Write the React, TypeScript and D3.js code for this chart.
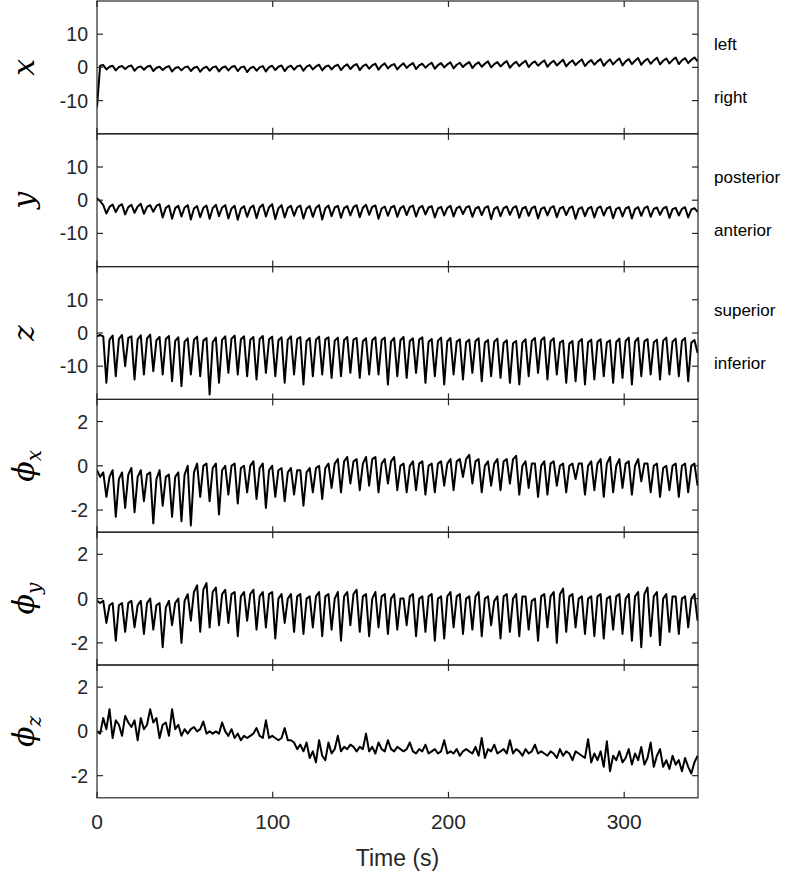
import React from 'react';
import * as d3 from 'd3';

// samples are evenly spaced in time
const SAMPLE_STEP = 1.78;
const TIME_MAX = 342;
const TIME_TICKS = [0, 100, 200, 300];
const POS_TICKS = [-10, 0, 10];
const ROT_TICKS = [-2, 0, 2];

// translation (mm)
const posX = [
  -12, 0.5, 0.7, -0.6, 0.2, 0.5, -0.9, 0.1, 0.4, -0.5, 0.3, 0.6, -1.0, 0.0, 0.3, -0.7, 0.2, 0.5,
  -1.1, -0.1, 0.2, -0.8, 0.0, 0.4, -1.2, -0.2, 0.1, -0.9, 0.0, 0.3, -1.1, -0.1, 0.2, -1.3, -0.2, 0.2,
  -1.0, 0.0, 0.3, -1.2, -0.1, 0.3, -0.9, 0.1, 0.4, -1.1, 0.0, 0.3, -1.4, -0.2, 0.2, -1.0, 0.0, 0.4,
  -1.2, 0.1, 0.5, -0.8, 0.2, 0.6, -1.1, 0.1, 0.5, -0.7, 0.3, 0.6, -1.0, 0.2, 0.7, -0.6, 0.3, 0.8,
  -0.9, 0.2, 0.6, -0.6, 0.4, 0.8, -0.8, 0.3, 0.9, -0.5, 0.5, 1.0, -0.8, 0.4, 0.9, -0.4, 0.6, 1.1,
  -0.7, 0.5, 1.2, -0.3, 0.6, 1.0, -0.6, 0.5, 1.2, -0.2, 0.7, 1.3, -0.5, 0.6, 1.1, -0.1, 0.8, 1.4,
  -0.4, 0.7, 1.3, 0.0, 0.9, 1.5, -0.3, 0.8, 1.4, 0.1, 1.0, 1.6, -0.2, 0.9, 1.5, 0.2, 1.1, 1.8,
  0.0, 1.0, 1.6, 0.3, 1.2, 1.9, -0.1, 1.0, 1.7, 0.4, 1.3, 2.0, 0.1, 1.2, 1.8, 0.5, 1.4, 2.1,
  0.2, 1.3, 2.0, 0.6, 1.5, 2.3, 0.3, 1.4, 2.1, 0.7, 1.6, 2.4, 0.4, 1.5, 2.2, 0.8, 1.8, 2.5,
  0.5, 1.6, 2.4, 0.9, 1.9, 2.7, 0.6, 1.8, 2.5, 1.0, 2.0, 2.8, 0.8, 1.9, 2.6, 1.1, 2.1, 2.9,
  0.9, 2.0, 2.7, 1.2, 2.2, 3.0, 1.0, 2.1, 2.8, 1.3, 2.3, 3.0, 1.8,
];

const posY = [
  0.6, -0.3, -1.5, -4.0, -2.0, -1.3, -3.6, -1.8, -1.2, -4.3, -2.1, -1.4, -3.8, -1.9, -1.1, -4.1, -2.0, -1.5,
  -3.5, -1.7, -1.2, -5.2, -2.3, -1.6, -5.6, -2.4, -1.7, -4.9, -2.2, -1.5, -5.8, -2.5, -1.8, -5.1, -2.3, -1.6,
  -5.6, -2.4, -1.4, -4.8, -2.2, -1.5, -5.5, -2.5, -1.7, -5.9, -2.6, -1.8, -5.0, -2.3, -1.6, -5.4, -2.2, -1.3,
  -4.9, -2.1, -1.2, -5.7, -2.4, -1.5, -5.2, -2.3, -1.7, -4.7, -2.2, -1.6, -5.5, -2.5, -1.8, -5.0, -2.3, -1.5,
  -5.8, -2.4, -1.6, -4.8, -2.2, -1.7, -5.3, -2.4, -1.8, -4.6, -2.1, -1.5, -5.1, -2.3, -1.4, -4.4, -2.0, -1.6,
  -5.6, -2.5, -1.9, -4.7, -2.2, -1.7, -5.0, -2.4, -1.8, -4.5, -2.1, -1.6, -4.9, -2.3, -1.7, -4.3, -2.2, -1.8,
  -5.2, -2.5, -2.0, -4.6, -2.3, -1.7, -4.9, -2.4, -1.9, -4.2, -2.2, -1.8, -5.0, -2.5, -2.0, -4.5, -2.3, -1.8,
  -5.7, -2.6, -2.0, -4.8, -2.4, -1.9, -4.4, -2.3, -1.8, -5.3, -2.5, -2.0, -4.7, -2.4, -1.9, -5.5, -2.6, -2.1,
  -4.6, -2.3, -1.8, -5.1, -2.5, -2.0, -4.5, -2.4, -1.9, -5.6, -2.6, -2.1, -4.8, -2.5, -2.0, -5.2, -2.4, -1.9,
  -4.6, -2.5, -2.0, -5.4, -2.6, -2.2, -4.9, -2.5, -2.0, -5.5, -2.7, -2.1, -4.7, -2.4, -1.9, -5.0, -2.6, -2.2,
  -4.4, -2.5, -2.0, -5.3, -2.7, -2.3, -4.6, -2.6, -2.1, -5.2, -2.8, -2.4, -3.5,
];

const posZ = [
  -1, -0.6, -1.0, -15, -2.0, -0.8, -13, -1.8, -0.6, -10, -1.5, -1.0, -14, -1.9, -0.7, -12.5, -1.6, -0.5,
  -11.5, -2.2, -1.2, -12.5, -1.8, -0.9, -14.5, -2.4, -1.3, -16, -2.6, -1.6, -12.5, -2.0, -1.1, -13, -2.3, -1.5,
  -18.5, -2.8, -1.4, -15, -2.1, -1.0, -12, -1.7, -0.8, -12.5, -1.9, -1.0, -13, -2.0, -1.2, -14, -1.8, -0.9,
  -12, -1.9, -1.1, -13, -2.2, -1.3, -15, -2.0, -1.0, -12.5, -1.8, -1.2, -15.5, -2.4, -1.5, -13, -2.0, -1.1,
  -12.5, -1.9, -1.3, -13.5, -2.3, -1.4, -13, -2.1, -1.2, -12, -2.0, -1.5, -13.5, -2.5, -1.6, -12.5, -2.2, -1.3,
  -12.5, -2.1, -1.4, -15.5, -2.6, -1.5, -13, -2.2, -1.2, -13.5, -2.4, -1.6, -12, -2.0, -1.3, -15, -2.7, -1.8,
  -13, -2.3, -1.4, -15.5, -2.5, -1.5, -12.5, -2.6, -1.9, -14, -2.8, -2.0, -12, -2.4, -1.6, -14.5, -2.9, -2.1,
  -13, -2.6, -1.7, -13.5, -3.0, -2.2, -15, -3.1, -2.4, -15.5, -2.9, -1.9, -13, -2.4, -1.5, -12, -2.2, -1.3,
  -14, -2.5, -1.6, -12.5, -2.9, -2.3, -15, -3.2, -2.4, -14.5, -2.7, -1.8, -15.5, -2.8, -2.0, -14, -2.6, -1.9,
  -13, -2.9, -2.2, -15, -2.7, -1.7, -13.5, -2.4, -1.4, -15.5, -2.6, -1.5, -13, -2.5, -1.8, -12.5, -2.8, -2.0,
  -14, -2.3, -1.4, -12.5, -2.6, -1.7, -13, -2.4, -1.5, -14.5, -2.9, -2.1, -6,
];

// rotation (deg)
const rotX = [
  -0.2, -0.5, -0.3, -1.4, -0.5, -0.2, -2.3, -0.6, -0.3, -1.9, -0.4, -0.1, -2.1, -0.5, -0.2, -1.6, -0.4, -0.3,
  -2.6, -0.6, -0.2, -1.8, -0.5, -0.4, -2.3, -0.5, -0.3, -2.5, -0.4, 0.0, -2.7, -0.3, 0.1, -1.4, 0.0, 0.1,
  -1.6, -0.1, 0.1, -2.2, -0.2, 0.0, -1.3, 0.0, 0.1, -1.7, -0.1, 0.0, -1.2, 0.0, 0.2, -1.5, -0.1, 0.1,
  -1.9, -0.2, 0.0, -1.4, -0.2, -0.1, -1.6, -0.3, -0.1, -1.3, -0.2, -0.2, -1.8, -0.3, -0.1, -1.2, -0.1, 0.0,
  -1.5, -0.1, 0.1, -1.0, 0.1, 0.3, -1.2, 0.2, 0.4, -0.8, 0.2, 0.3, -1.1, 0.1, 0.4, -0.9, 0.3, 0.4,
  -1.2, 0.1, 0.3, -0.8, 0.2, 0.4, -1.1, 0.0, 0.1, -1.2, 0.0, 0.2, -1.1, 0.1, 0.2, -1.3, 0.0, 0.1,
  -1.2, 0.1, 0.2, -0.9, 0.1, 0.3, -1.1, 0.2, 0.3, -0.5, 0.3, 0.5, -0.8, 0.2, 0.3, -1.2, 0.0, 0.2,
  -0.9, 0.1, 0.3, -1.1, 0.2, 0.3, -0.8, 0.3, 0.45, -1.3, 0.0, 0.2, -1.0, 0.1, 0.1, -1.4, 0.0, 0.2,
  -1.3, 0.1, 0.2, -0.9, 0.0, 0.1, -1.2, 0.0, 0.1, -0.6, 0.1, 0.1, -1.3, 0.0, 0.2, -1.1, 0.1, 0.3,
  -1.4, 0.1, 0.4, -1.2, 0.0, 0.3, -1.0, 0.1, 0.2, -1.3, 0.0, 0.3, -0.7, 0.1, 0.1, -1.2, 0.0, 0.1,
  -1.4, -0.1, 0.0, -1.1, 0.0, 0.1, -1.4, 0.0, 0.1, -1.2, 0.0, 0.1, -0.9,
];

const rotY = [
  -0.1, -0.2, -0.1, -1.1, -0.3, -0.2, -1.9, -0.3, -0.2, -1.5, -0.2, -0.1, -1.3, -0.3, -0.1, -1.6, -0.2, 0.0,
  -1.4, -0.3, -0.2, -2.2, -0.4, -0.1, -1.2, -0.2, 0.0, -2.0, -0.1, 0.2, -1.0, 0.3, 0.6, -1.5, 0.4, 0.7,
  -1.3, 0.3, 0.5, -1.2, 0.2, 0.4, -1.1, 0.2, 0.3, -1.7, 0.1, 0.3, -1.0, 0.2, 0.4, -1.4, 0.1, 0.3,
  -1.3, 0.2, 0.3, -1.8, 0.0, 0.2, -1.1, 0.0, 0.2, -1.5, 0.1, 0.2, -1.6, 0.0, 0.1, -1.3, 0.1, 0.3,
  -1.7, 0.1, 0.2, -1.4, 0.0, 0.3, -1.9, 0.1, 0.3, -1.2, 0.2, 0.4, -1.5, 0.1, 0.2, -1.7, 0.0, 0.3,
  -1.3, 0.1, 0.2, -1.6, 0.0, 0.2, -1.4, 0.0, 0.0, -1.2, 0.1, 0.2, -1.7, 0.0, 0.1, -1.5, 0.1, 0.2,
  -1.9, 0.0, 0.1, -1.8, 0.1, 0.3, -1.3, 0.1, 0.2, -1.6, 0.0, 0.1, -1.4, 0.1, 0.3, -1.7, 0.0, 0.1,
  -1.2, -0.1, 0.1, -1.8, 0.1, 0.2, -1.5, 0.0, 0.2, -1.7, 0.1, 0.1, -1.4, -0.1, 0.0, -1.9, 0.1, 0.2,
  -1.3, 0.1, 0.3, -2.0, 0.2, 0.45, -1.5, 0.1, 0.2, -1.3, 0.0, 0.1, -1.6, 0.0, 0.1, -1.7, 0.1, 0.2,
  -1.8, 0.0, 0.1, -1.4, 0.1, 0.2, -1.6, 0.0, 0.2, -1.9, 0.1, 0.3, -2.2, 0.2, 0.5, -1.7, 0.1, 0.3,
  -2.1, 0.0, 0.2, -1.5, 0.1, 0.1, -1.6, 0.0, 0.1, -1.3, 0.0, 0.2, -1.0,
];

const rotZ = [
  0.0, -0.1, 0.6, 0.1, 1.0, -0.3, 0.5, 0.3, -0.2, 0.7, 0.4, 0.2, 0.5, -0.4, 0.6, 0.1, 0.3, 1.0,
  0.4, 0.6, -0.3, 0.3, 0.4, -0.2, 1.0, 0.1, 0.3, -0.2, 0.1, -0.1, 0.1, 0.2, 0.0, 0.1, 0.45, -0.1,
  0.0, -0.1, 0.0, -0.1, 0.4, 0.0, -0.2, 0.1, -0.3, -0.1, -0.4, -0.2, -0.3, -0.2, -0.1, 0.15, -0.2, -0.3,
  0.5, -0.3, -0.2, -0.3, -0.4, -0.3, 0.15, -0.4, -0.4, -0.5, -0.8, -0.6, -0.9, -0.5, -1.2, -0.9, -1.4, -0.4,
  -1.1, -1.3, -0.5, -1.0, -0.8, -0.2, -0.9, -0.7, -0.8, -0.6, -0.7, -0.9, -0.7, -0.8, -0.1, -0.9, -0.7, -1.0,
  -0.5, -0.8, -0.9, -0.4, -0.8, -0.9, -0.7, -0.8, -0.9, -0.8, -0.5, -0.9, -1.0, -0.8, -0.9, -0.6, -1.0, -0.9,
  -0.8, -1.0, -0.9, -0.4, -1.0, -0.9, -1.0, -0.8, -1.1, -0.9, -0.8, -0.9, -1.0, -0.7, -1.1, -0.3, -1.2, -0.8,
  -0.9, -0.6, -1.0, -0.9, -0.8, -1.0, -0.4, -1.0, -0.8, -0.9, -1.1, -0.8, -1.0, -0.9, -0.6, -1.0, -0.9, -1.0,
  -1.1, -0.9, -1.0, -1.2, -0.8, -1.1, -0.9, -1.0, -1.3, -0.9, -1.0, -1.1, -1.2, -0.35, -1.4, -1.0, -1.3, -0.9,
  -1.6, -0.45, -1.8, -1.1, -1.3, -0.9, -1.4, -1.2, -0.8, -1.5, -1.0, -1.3, -0.7, -1.5, -1.2, -0.5, -1.6, -1.1,
  -0.8, -1.6, -1.3, -1.7, -1.1, -1.5, -1.3, -1.8, -1.2, -1.6, -1.9, -1.4, -1.1,
];

const panels = [
  { values: posX, domain: [-20, 20], ticks: POS_TICKS, label: 'x', sub: '', hi: 'left', lo: 'right' },
  { values: posY, domain: [-20, 20], ticks: POS_TICKS, label: 'y', sub: '', hi: 'posterior', lo: 'anterior' },
  { values: posZ, domain: [-20, 20], ticks: POS_TICKS, label: 'z', sub: '', hi: 'superior', lo: 'inferior' },
  { values: rotX, domain: [-3, 3], ticks: ROT_TICKS, label: 'ϕ', sub: 'x', hi: '', lo: '' },
  { values: rotY, domain: [-3, 3], ticks: ROT_TICKS, label: 'ϕ', sub: 'y', hi: '', lo: '' },
  { values: rotZ, domain: [-3, 3], ticks: ROT_TICKS, label: 'ϕ', sub: 'z', hi: '', lo: '' },
];

const W = 800;
const H = 880;
const left = 97;
const right = 698;
const top = 1;
const panelH = 132.8;
const tickLen = 6;
const sans = '"Liberation Sans", Arial, Helvetica, sans-serif';
const serif = '"DejaVu Serif", "Liberation Serif", serif';
const axisColor = '#262626';

export default function App() {
  const x = d3.scaleLinear().domain([0, TIME_MAX]).range([left, right]);
  const bottom = top + panelH * panels.length;

  return (
    <svg width={W} height={H} style={{ position: 'absolute', left: 0, top: 0, background: '#fff' }}>
      <defs>
        {panels.map((p, i) => (
          <clipPath id={`clip${i}`} key={i}>
            <rect x={left} y={top + i * panelH} width={right - left} height={panelH} />
          </clipPath>
        ))}
      </defs>
      {panels.map((p, i) => {
        const y0 = top + i * panelH;
        const y = d3.scaleLinear().domain(p.domain).range([y0 + panelH, y0]);
        const line = d3.line<number>()
          .x((d, j) => x(j * SAMPLE_STEP))
          .y(d => y(d));
        const mid = y0 + panelH / 2;
        const hiVal = p.domain[1] * 0.35;
        const loVal = p.domain[0] * 0.45;
        return (
          <g key={i}>
            <path d={line(p.values) || ''} fill="none" stroke="#000" strokeWidth={2}
              strokeLinejoin="round" clipPath={`url(#clip${i})`} />
            <rect x={left} y={y0} width={right - left} height={panelH} fill="none"
              stroke={axisColor} strokeWidth={1.2} />
            {TIME_TICKS.map(t => (
              <g key={t}>
                <line x1={x(t)} x2={x(t)} y1={y0} y2={y0 + tickLen} stroke={axisColor} strokeWidth={1.2} />
                <line x1={x(t)} x2={x(t)} y1={y0 + panelH} y2={y0 + panelH - tickLen} stroke={axisColor} strokeWidth={1.2} />
              </g>
            ))}
            {p.ticks.map(v => (
              <g key={v}>
                <line x1={left} x2={left + tickLen} y1={y(v)} y2={y(v)} stroke={axisColor} strokeWidth={1.2} />
                <line x1={right} x2={right - tickLen} y1={y(v)} y2={y(v)} stroke={axisColor} strokeWidth={1.2} />
                <text x={left - 9} y={y(v)} dy="0.36em" textAnchor="end" fontFamily={sans}
                  fontSize={19.5} fill={axisColor}>{v}</text>
              </g>
            ))}
            <text transform={`translate(34,${mid}) rotate(-90)`} textAnchor="middle"
              fontFamily={serif} fontStyle="italic" fontSize={30} fill="#000">
              {p.label}
              {p.sub && <tspan fontSize={20} dy={7}>{p.sub}</tspan>}
            </text>
            {p.hi && (
              <text x={714} y={y(hiVal)} dy="0.35em" fontFamily={sans} fontSize={17} fill="#000">{p.hi}</text>
            )}
            {p.lo && (
              <text x={714} y={y(loVal)} dy="0.35em" fontFamily={sans} fontSize={17} fill="#000">{p.lo}</text>
            )}
          </g>
        );
      })}
      {TIME_TICKS.map(t => (
        <text key={t} x={x(t)} y={bottom + 24} dy="0.36em" textAnchor="middle" fontFamily={sans}
          fontSize={21} fill={axisColor}>{t}</text>
      ))}
      <text x={(left + right) / 2} y={bottom + 60} dy="0.36em" textAnchor="middle" fontFamily={sans}
        fontSize={23} fill={axisColor}>Time (s)</text>
    </svg>
  );
}
